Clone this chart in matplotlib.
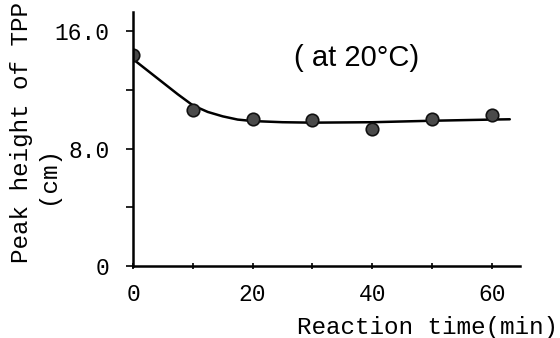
import matplotlib
matplotlib.use("Agg")
import matplotlib.pyplot as plt
from matplotlib.ticker import FixedLocator

# Measured peak heights of TPP at 20 °C
time_min = [0, 10, 20, 30, 40, 50, 60]
peak_cm = [14.4, 10.6, 10.05, 9.93, 9.37, 10.05, 10.3]

# Hand-drawn trend curve, sampled along its path
curve_t = [0, 2.5, 5, 7.5, 10, 12.5, 15, 17.5, 20, 25, 30, 40, 50, 60, 63]
curve_y = [14.1, 13.3, 12.5, 11.7, 10.95, 10.5, 10.2, 9.98, 9.88, 9.8, 9.77, 9.8, 9.9, 9.98, 10.0]

x_major = [0, 20, 40, 60]
x_minor = [10, 30, 50]
y_major = [0, 8, 16]
y_major_labels = ["0", "8.0", "16.0"]
y_minor = [4, 12]

mono = "Liberation Mono"

fig = plt.figure(figsize=(5.6, 3.38), dpi=100)
ax = fig.add_axes([0.2375, 0.213, 0.691, 0.751])

ax.plot(curve_t, curve_y, color="black", lw=1.8, solid_capstyle="round")
ax.plot(time_min, peak_cm, "o", ms=9, mfc="#4a4a4a", mec="#111111", mew=1.2)

ax.set_xlim(0, 64.7)
ax.set_ylim(0, 17.3)

for s in ("top", "right"):
    ax.spines[s].set_visible(False)
for s in ("left", "bottom"):
    ax.spines[s].set_linewidth(1.8)

ax.xaxis.set_major_locator(FixedLocator(x_major))
ax.xaxis.set_minor_locator(FixedLocator(x_minor))
ax.yaxis.set_major_locator(FixedLocator(y_major))
ax.yaxis.set_minor_locator(FixedLocator(y_minor))
ax.set_yticklabels(y_major_labels)

ax.tick_params(axis="x", which="both", direction="inout", length=5, width=1.2, pad=10,
               labelsize=16.5)
ax.tick_params(axis="y", which="both", direction="out", length=5, width=1.2, pad=12,
               labelsize=16.5)
for lab in ax.get_xticklabels() + ax.get_yticklabels():
    lab.set_fontfamily(mono)

fig.text(0.039, 0.222, "Peak height of TPP", rotation=90, ha="center", va="bottom",
         fontsize=17.5, fontfamily=mono)
fig.text(0.084, 0.482, "(cm)", rotation=90, ha="center", va="center",
         fontsize=17.5, fontfamily=mono)
fig.text(0.997, 0.03, "Reaction time(min)", ha="right", va="center",
         fontsize=17.5, fontfamily=mono)
fig.text(0.637, 0.828, "( at 20°C)", ha="center", va="center",
         fontsize=21, fontfamily="Liberation Sans")

fig.savefig("out.png", dpi=100)
